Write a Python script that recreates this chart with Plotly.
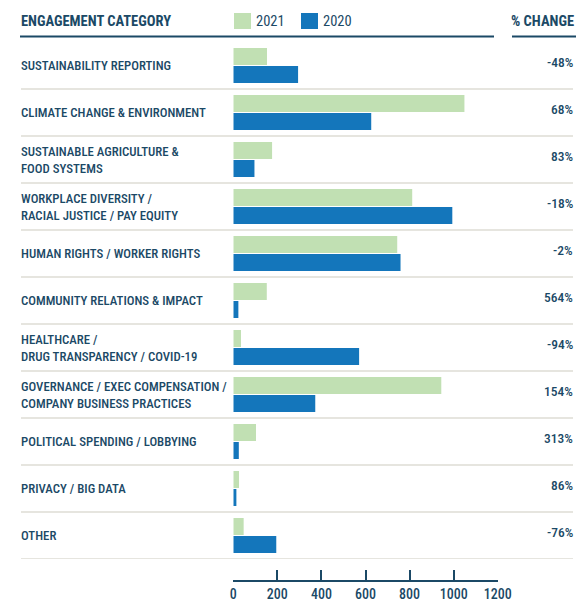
import plotly.graph_objects as go

categories = [
    "SUSTAINABILITY REPORTING",
    "CLIMATE CHANGE & ENVIRONMENT",
    "SUSTAINABLE AGRICULTURE &<br>FOOD SYSTEMS",
    "WORKPLACE DIVERSITY /<br>RACIAL JUSTICE / PAY EQUITY",
    "HUMAN RIGHTS / WORKER RIGHTS",
    "COMMUNITY RELATIONS & IMPACT",
    "HEALTHCARE /<br>DRUG TRANSPARENCY / COVID-19",
    "GOVERNANCE / EXEC COMPENSATION /<br>COMPANY BUSINESS PRACTICES",
    "POLITICAL SPENDING / LOBBYING",
    "PRIVACY / BIG DATA",
    "OTHER",
]
values_2021 = [153, 1049, 176, 812, 744, 152, 35, 944, 103, 26, 47]
values_2020 = [294, 626, 96, 994, 759, 23, 571, 372, 25, 14, 195]
pct_change = ["-48%", "68%", "83%", "-18%", "-2%", "564%", "-94%", "154%", "313%", "86%", "-76%"]
tick_vals = [0, 200, 400, 600, 800, 1000, 1200]

W, H = 576, 600
NAVY = "#1b4966"
GREEN = "#c1e0b3"
BLUE = "#1476bb"
SEP = "#e6e5df"
FONT = "Roboto Condensed, Open Sans Condensed, sans-serif"

def px_x(v):
    return v / W

def px_y(v):
    return 1 - v / H

fig = go.Figure()
fig.add_trace(go.Bar(y=categories, x=values_2021, orientation="h", name="2021",
                     marker=dict(color=GREEN, line=dict(width=0))))
fig.add_trace(go.Bar(y=categories, x=values_2020, orientation="h", name="2020",
                     marker=dict(color=BLUE, line=dict(width=0))))

shapes = []
annotations = []

# row separators
for i in range(len(categories)):
    shapes.append(dict(type="line", xref="paper", yref="y", x0=px_x(21), x1=px_x(573),
                       y0=i + 0.5, y1=i + 0.5, line=dict(color=SEP, width=2)))

# header rules
shapes.append(dict(type="line", xref="paper", yref="paper", x0=px_x(20), x1=px_x(494),
                   y0=px_y(36.5), y1=px_y(36.5), line=dict(color=NAVY, width=2)))
shapes.append(dict(type="line", xref="paper", yref="paper", x0=px_x(512), x1=1,
                   y0=px_y(36.5), y1=px_y(36.5), line=dict(color=NAVY, width=2)))

# legend swatches
shapes.append(dict(type="rect", xref="paper", yref="paper", x0=px_x(234), x1=px_x(251),
                   y0=px_y(29), y1=px_y(13), fillcolor=GREEN, line=dict(width=0)))
shapes.append(dict(type="rect", xref="paper", yref="paper", x0=px_x(301), x1=px_x(318),
                   y0=px_y(29), y1=px_y(13), fillcolor=BLUE, line=dict(width=0)))

for txt, xp in [("2021", 254), ("2020", 321)]:
    annotations.append(dict(text=txt, xref="paper", yref="paper", x=px_x(xp), y=px_y(21),
                            xanchor="left", yanchor="middle", showarrow=False,
                            font=dict(size=14.5, color=NAVY, family=FONT)))
annotations.append(dict(text="<b>ENGAGEMENT CATEGORY</b>", xref="paper", yref="paper",
                        x=px_x(19), y=px_y(22), xanchor="left", yanchor="middle",
                        showarrow=False, font=dict(size=14.5, color=NAVY, family=FONT)))
annotations.append(dict(text="<b>% CHANGE</b>", xref="paper", yref="paper",
                        x=px_x(576), y=px_y(22), xanchor="right", yanchor="middle",
                        showarrow=False, font=dict(size=14.5, color=NAVY, family=FONT)))

# row labels and percentages
for cat, pct in zip(categories, pct_change):
    annotations.append(dict(text=cat, xref="paper", yref="y", x=px_x(19), y=cat,
                            xanchor="left", yanchor="middle", align="left", showarrow=False,
                            font=dict(size=12.8, color=NAVY, family=FONT, weight=500)))
    annotations.append(dict(text=pct, xref="paper", yref="y", x=px_x(575), y=cat,
                            yshift=4, xanchor="right", yanchor="middle", showarrow=False,
                            font=dict(size=13.5, color=NAVY, family=FONT, weight=500)))

fig.update_layout(
    template="none",
    width=W, height=H,
    margin=dict(l=0, r=0, t=0, b=0, autoexpand=False),
    paper_bgcolor="white", plot_bgcolor="white",
    showlegend=False,
    barmode="group", bargap=0.234, bargroupgap=0.06,
    shapes=shapes, annotations=annotations,
    font=dict(family=FONT, color=NAVY),
    xaxis=dict(domain=[px_x(233.3), px_x(497.7)], range=[0, 1200], anchor="free",
               position=px_y(581), tickvals=tick_vals, ticks="inside", ticklen=10,
               tickwidth=1.5, tickcolor=NAVY, showline=True, linecolor=NAVY, linewidth=2,
               showgrid=False, zeroline=False, automargin=False,
               tickfont=dict(size=14, color=NAVY, family=FONT, weight=500)),
    yaxis=dict(domain=[px_y(559), px_y(42)], range=[len(categories) - 0.5, -0.5],
               showticklabels=False, showgrid=False, zeroline=False, showline=False,
               ticks="", automargin=False),
)

# page has a default body margin; drop it so the figure sits at the window corner
fig.write_html("out.html", config={"displayModeBar": False},
               post_script="document.body.style.margin = '0';")
